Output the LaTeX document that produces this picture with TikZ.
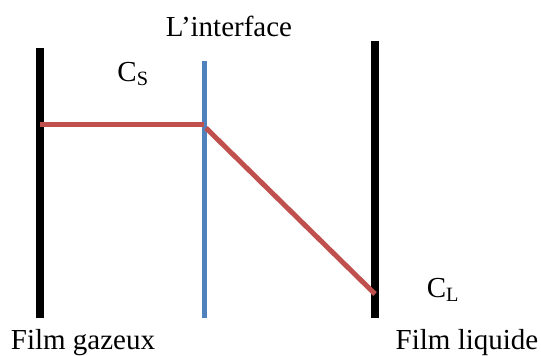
\documentclass[tikz,border=0pt]{standalone}
\usepackage{fontspec}
\setmainfont{Liberation Serif}
\usepackage{xcolor}
\usetikzlibrary{positioning}

\definecolor{filmred}{HTML}{C0504D}
\definecolor{filmblue}{HTML}{4F81BD}

\begin{document}
\begin{tikzpicture}[x=1pt, y=-1pt,
  font=\fontsize{29}{34}\selectfont,
  lbl/.style={inner sep=0pt, anchor=base},
  film/.style={line width=8pt, black},
  iface/.style={line width=5pt, filmblue},
  profil/.style={line width=5pt, filmred}]
\useasboundingbox (0,0) rectangle (541,356);
% films and interface
\draw[film] (40,48) -- (40,318);
\draw[iface] (204,61) -- (204,318);
\draw[film] (375,41) -- (375,318);
% concentration profile
\coordinate (gas) at (40,124);
\coordinate (cs) at (204,124);
\coordinate (cl) at (375,294);
\draw[profil] (gas) -- (cs);
\draw[profil] (206,128) -- (cl);
% labels
\node[lbl] (interface) at (229,36) {L’interface};
\node[lbl] (csl) at (133,81) {C\textsubscript{S}};
\node[lbl] (cll) at (443,297) {C\textsubscript{L}};
\node[lbl] (gaz) at (83,349) {Film gazeux};
\node[lbl] (liq) at (467,349) {Film liquide};
\end{tikzpicture}
\end{document}
